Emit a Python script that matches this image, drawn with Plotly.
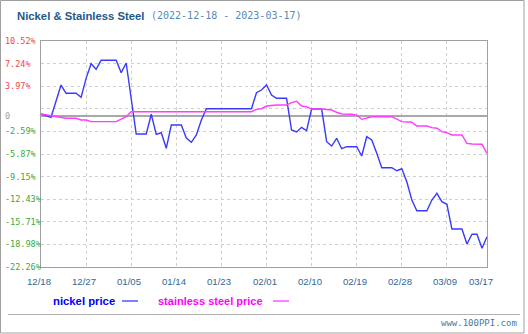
import plotly.graph_objects as go

# ---------------- data ----------------
nickel_dates = ["2022-12-18","2022-12-20","2022-12-22","2022-12-23","2022-12-25","2022-12-26","2022-12-27",
    "2022-12-28","2022-12-29","2022-12-30","2023-01-02","2023-01-03","2023-01-04","2023-01-06","2023-01-08",
    "2023-01-09","2023-01-10","2023-01-11","2023-01-12","2023-01-13","2023-01-15","2023-01-16","2023-01-17",
    "2023-01-18","2023-01-19","2023-01-20","2023-01-29","2023-01-30","2023-01-31","2023-02-01","2023-02-02",
    "2023-02-03","2023-02-05","2023-02-06","2023-02-07","2023-02-08","2023-02-09","2023-02-10","2023-02-12",
    "2023-02-13","2023-02-14","2023-02-15","2023-02-16","2023-02-17","2023-02-19","2023-02-20","2023-02-21",
    "2023-02-22","2023-02-23","2023-02-24","2023-02-26","2023-02-27","2023-02-28","2023-03-01","2023-03-02",
    "2023-03-03","2023-03-05","2023-03-06","2023-03-07","2023-03-08","2023-03-09","2023-03-10","2023-03-12",
    "2023-03-13","2023-03-14","2023-03-15","2023-03-16","2023-03-17"]
nickel_values = [0.29,-0.19,4.49,3.29,3.29,2.71,5.46,
    7.58,6.77,8.07,8.07,6.28,7.68,-2.61,-2.61,
    0.25,-2.65,-2.42,-4.68,-1.30,-1.30,-3.19,-3.81,
    -2.75,-0.58,1.06,1.06,3.38,3.77,4.49,3.04,
    2.57,2.57,-2.03,-2.32,-1.64,-2.13,1.01,1.01,
    -3.72,-4.35,-3.23,-4.74,-4.45,-4.45,-5.80,-3.00,
    -3.48,-5.41,-7.49,-7.49,-7.93,-7.64,-9.52,-12.17,
    -13.72,-13.72,-12.17,-11.20,-12.42,-12.80,-16.38,-16.38,
    -18.55,-17.14,-17.14,-19.17,-17.49]

steel_dates = ["2022-12-18","2022-12-20","2022-12-22","2022-12-23","2022-12-25","2022-12-26","2022-12-27",
    "2022-12-28","2023-01-02","2023-01-03","2023-01-04","2023-01-05","2023-01-29","2023-01-30","2023-01-31",
    "2023-02-01","2023-02-03","2023-02-05","2023-02-06","2023-02-07","2023-02-08","2023-02-09","2023-02-10",
    "2023-02-12","2023-02-14","2023-02-15","2023-02-16","2023-02-18","2023-02-19","2023-02-20","2023-02-21",
    "2023-02-22","2023-02-26","2023-02-27","2023-02-28","2023-03-02","2023-03-03","2023-03-05","2023-03-06",
    "2023-03-07","2023-03-08","2023-03-09","2023-03-10","2023-03-12","2023-03-13","2023-03-14","2023-03-16",
    "2023-03-17"]
steel_values = [0.29,0.0,-0.19,-0.33,-0.33,-0.58,-0.58,
    -0.82,-0.82,-0.48,-0.10,0.62,0.62,0.97,1.06,
    1.45,1.59,1.59,1.93,2.13,1.45,1.35,1.01,
    1.01,0.87,0.54,0.29,0.25,0.14,-0.48,-0.25,
    -0.10,-0.10,-0.48,-0.82,-0.91,-1.45,-1.45,-1.69,
    -1.78,-2.27,-2.42,-2.75,-2.75,-3.96,-4.06,-4.10,
    -5.41]

x_tick_dates = ["2022-12-18","2022-12-27","2023-01-05","2023-01-14","2023-01-23","2023-02-01",
                "2023-02-10","2023-02-19","2023-02-28","2023-03-09","2023-03-17"]
x_tick_labels = ["12/18","12/27","01/05","01/14","01/23","02/01","02/10","02/19","02/28","03/09","03/17"]

y_top = 10.87
y_bottom = -21.88
y_step = (y_top - y_bottom) / 10
y_tick_labels = ["10.52%","7.24%","3.97%","","-2.59%","-5.87%","-9.15%","-12.43%","-15.71%","-18.98%","-22.26%"]
y_grid = [y_top - i * y_step for i in range(11)]

title_text = "Nickel & Stainless Steel"
range_text = "(2022-12-18 - 2023-03-17)"
series_names = ["nickel price", "stainless steel price"]

# ---------------- figure ----------------
W, H = 528, 334
L, R, T, B = 41, 41, 41, 67
pw, ph = W - L - R, H - T - B

def px(x):
    return (x - L) / pw

def py(y):
    return (H - B - y) / ph

fig = go.Figure()
fig.add_trace(go.Scatter(x=nickel_dates, y=nickel_values, mode="lines",
                         line=dict(color="#3a3aff", width=1.4), name=series_names[0]))
fig.add_trace(go.Scatter(x=steel_dates, y=steel_values, mode="lines",
                         line=dict(color="#ff3cff", width=1.4), name=series_names[1]))

fig.update_layout(
    width=W, height=H, margin=dict(l=L, r=R, t=T, b=B),
    paper_bgcolor="white", plot_bgcolor="white", showlegend=False,
    font=dict(family="Liberation Sans, Arial, sans-serif"),
)
fig.update_xaxes(type="date", range=["2022-12-18", "2023-03-17"], tickvals=x_tick_dates,
                 showticklabels=False, ticks="", showgrid=True, gridcolor="#cfcfcf",
                 griddash="dot", gridwidth=1, showline=True, linecolor="#a0a0a0",
                 linewidth=1, mirror=True, zeroline=False)
fig.update_yaxes(range=[y_bottom, y_top], tickvals=y_grid, showticklabels=False, ticks="",
                 showgrid=True, gridcolor="#cfcfcf", griddash="dot", gridwidth=1,
                 showline=True, linecolor="#a0a0a0", linewidth=1, mirror=True,
                 zeroline=True, zerolinecolor="#a8a8a8", zerolinewidth=1.5)

ann = []
# y tick labels (left aligned, as in the reference)
for i, t in enumerate(y_tick_labels):
    if not t:
        continue
    col = "#f04848" if not t.startswith("-") else "#3aa83a"
    ann.append(dict(x=px(3), xref="paper", y=1 - i / 10, yref="paper", xanchor="left", yanchor="middle",
                    text=t, showarrow=False,
                    font=dict(family="DejaVu Sans Mono", size=8.5, color=col)))
ann.append(dict(x=px(3), xref="paper", y=0, yref="y", xanchor="left", yanchor="middle",
                text="0", showarrow=False,
                font=dict(family="DejaVu Sans Mono", size=8.5, color="#a0a0a0")))
# x tick labels
for i, (d, t) in enumerate(zip(x_tick_dates, x_tick_labels)):
    shift = -6 if i == len(x_tick_dates) - 1 else -2
    ann.append(dict(x=d, xref="x", y=py(281), yref="paper", xanchor="center", yanchor="middle",
                    xshift=shift, text=t, showarrow=False,
                    font=dict(family="Liberation Sans", size=9.6, color="#336699")))
# title
ann.append(dict(x=px(15), xref="paper", y=py(16), yref="paper", xanchor="left", yanchor="middle",
                text="<b>" + title_text + "</b>", showarrow=False,
                font=dict(family="Liberation Sans", size=11.3, color="#1d5a8c")))
ann.append(dict(x=px(149), xref="paper", y=py(15), yref="paper", xanchor="left", yanchor="middle",
                text=range_text, showarrow=False,
                font=dict(family="DejaVu Sans Mono", size=10, color="#5a8ab4")))
# legend
ann.append(dict(x=px(51), xref="paper", y=py(301), yref="paper", xanchor="left", yanchor="middle",
                text="<b>" + series_names[0] + "</b>", showarrow=False,
                font=dict(family="Liberation Sans", size=11.3, color="#0000ff")))
ann.append(dict(x=px(156), xref="paper", y=py(301), yref="paper", xanchor="left", yanchor="middle",
                text="<b>" + series_names[1] + "</b>", showarrow=False,
                font=dict(family="Liberation Sans", size=11, color="#ff00ff")))
# watermark
ann.append(dict(x=px(519), xref="paper", y=py(323), yref="paper", xanchor="right", yanchor="middle",
                text="www.100PPI.com", showarrow=False,
                font=dict(family="DejaVu Sans Mono", size=9, color="#4a7a9a")))

shapes = [
    dict(type="line", xref="paper", yref="paper", x0=px(122), x1=px(138), y0=py(301), y1=py(301),
         line=dict(color="#8080ff", width=2)),
    dict(type="line", xref="paper", yref="paper", x0=px(273), x1=px(289), y0=py(301), y1=py(301),
         line=dict(color="#ff80ff", width=2)),
    dict(type="line", xref="paper", yref="paper", x0=px(8), x1=px(520), y0=py(314.5), y1=py(314.5),
         line=dict(color="#b0b0b0", width=1)),
    dict(type="rect", xref="paper", yref="paper", x0=px(0.5), x1=px(524), y0=py(0.5), y1=py(333),
         line=dict(color="#a0a0a0", width=1)),
]
fig.update_layout(annotations=ann, shapes=shapes)
fig.write_html("out.html")
